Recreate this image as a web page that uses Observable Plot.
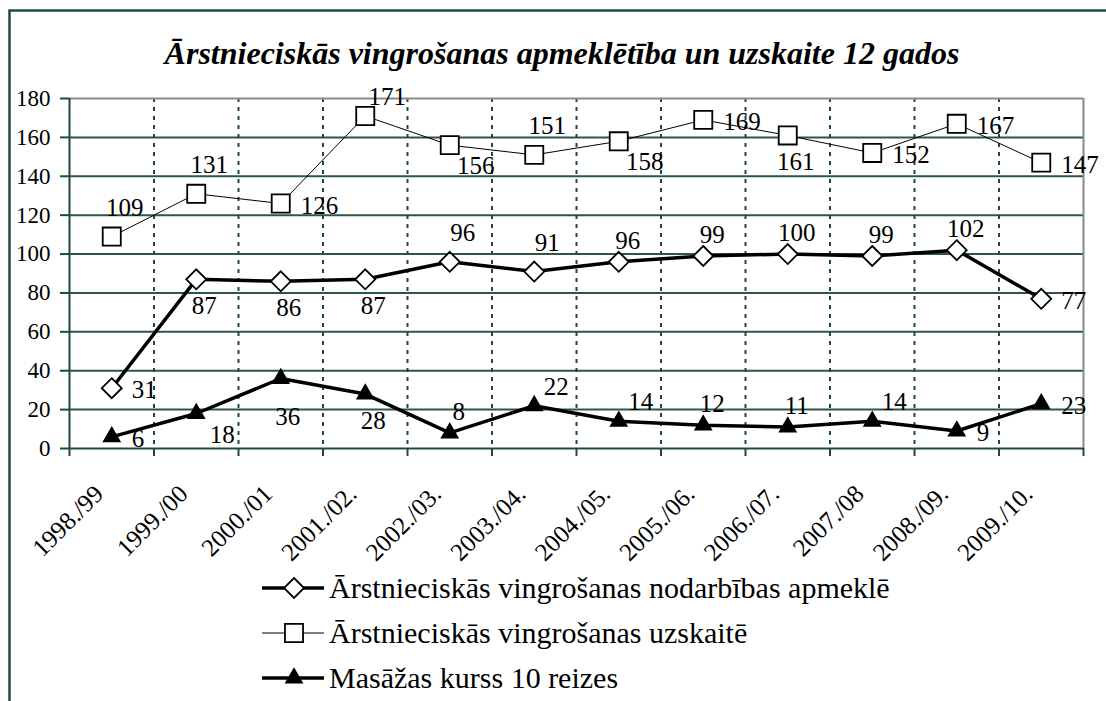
<!DOCTYPE html>
<html>
<head>
<meta charset="utf-8">
<script src="https://cdn.jsdelivr.net/npm/d3@7"></script>
<script src="https://cdn.jsdelivr.net/npm/@observablehq/plot@0.6"></script>
<style>
  body { margin: 0; background: #fff; }
  #wrap { position: relative; width: 1106px; height: 701px; overflow: hidden; background: #fff; }
  #wrap svg { position: absolute; left: 0; top: 0; }
</style>
</head>
<body>
<div id="wrap"></div>
<script>
// ---- data ----
const categories = ["1998./99", "1999./00", "2000./01", "2001./02.", "2002./03.", "2003./04.",
                    "2004./05.", "2005./06.", "2006./07.", "2007./08", "2008./09.", "2009./10."];
const apmekle  = [31, 87, 86, 87, 96, 91, 96, 99, 100, 99, 102, 77];
const uzskaite = [109, 131, 126, 171, 156, 151, 158, 169, 161, 152, 167, 147];
const masazas  = [6, 18, 36, 28, 8, 22, 14, 12, 11, 14, 9, 23];
const yTicks = [0, 20, 40, 60, 80, 100, 120, 140, 160, 180];
const seriesNames = [
  "Ārstnieciskās vingrošanas nodarbības apmeklē",
  "Ārstnieciskās vingrošanas uzskaitē",
  "Masāžas kurss 10 reizes"
];
const titleText = "Ārstnieciskās vingrošanas apmeklētība un uzskaite 12 gados";
// label placement codes (where each data label sits relative to its marker)
const apmeklePlace  = ["r", "b", "b", "b", "A", "A", "a", "a", "a", "a", "a", "r"];
const uzskaitePlace = ["A", "A", "r", "ar", "br", "A", "br", "r", "b", "r", "r", "r"];
const masazasPlace  = ["r", "br", "B", "b", "a", "ar", "ar", "a", "a", "ar", "r", "r"];

// ---- styles ----
const serif = "Liberation Serif";
const gridGreen = "#2c5747";
const axisGreen = "#1f4a3a";
const placeStyle = {
  r:  {dx: 20, dy: 2, textAnchor: "start"},
  a:  {dx: 9,  dy: -21},
  A:  {dx: 13, dy: -29},
  b:  {dx: 8,  dy: 27},
  B:  {dx: 7,  dy: 38},
  ar: {dx: 22, dy: -19},
  br: {dx: 26, dy: 21}
};
const series = [
  {name: seriesNames[0], values: apmekle,  place: apmeklePlace,  symbol: "diamond2",  r: 9,    fill: "white", lineWidth: 3.5},
  {name: seriesNames[1], values: uzskaite, place: uzskaitePlace, symbol: "square2",   r: 11.5, fill: "white", lineWidth: 1},
  {name: seriesNames[2], values: masazas,  place: masazasPlace,  symbol: "triangle2", r: 7.5,  fill: "black", lineWidth: 3.5}
];

const W = 1106, H = 701;
const mLeft = 69, mRight = 1083, mTop = 98, mBottom = 448;

const rows = series.flatMap((s, k) => s.values.map((v, i) => ({k, i, v, place: s.place[i]})));

const marks = [
  Plot.ruleY(yTicks.filter(v => v > 0 && v < 180), {stroke: gridGreen, strokeWidth: 2}),
  Plot.ruleX(d3.range(categories.length - 1).map(i => i + 0.5), {stroke: axisGreen, strokeWidth: 2, strokeDasharray: "4,5"}),
  Plot.ruleY([180], {stroke: "#8a8a8a", strokeWidth: 2}),
  Plot.ruleX([categories.length - 0.5], {stroke: "#8a8a8a", strokeWidth: 2}),
  Plot.ruleX([-0.5], {stroke: axisGreen, strokeWidth: 2}),
  Plot.ruleY([0], {stroke: axisGreen, strokeWidth: 2}),
  Plot.axisY(yTicks, {tickSize: 9, tickPadding: 10, fontSize: 23, fontFamily: serif, stroke: axisGreen, strokeWidth: 2, fill: "black", label: null}),
  Plot.axisX(d3.range(categories.length + 1).map(i => i - 0.5), {tickSize: 8, tickFormat: () => "", stroke: axisGreen, strokeWidth: 2, label: null}),
  Plot.text(categories, {x: (d, i) => i, frameAnchor: "bottom", text: d => d, rotate: -45, textAnchor: "end", lineAnchor: "bottom", dx: -7, dy: 47, fontSize: 25, fontFamily: serif, fill: "black"})
];
for (const s of series) {
  marks.push(Plot.line(s.values, {x: (d, i) => i, y: d => d, stroke: "black", strokeWidth: s.lineWidth}));
}
for (const s of series) {
  marks.push(Plot.dot(s.values, {x: (d, i) => i, y: d => d, symbol: s.symbol, r: s.r, stroke: "black", strokeWidth: 1.8, fill: s.fill}));
}
for (const [code, st] of Object.entries(placeStyle)) {
  marks.push(Plot.text(rows.filter(d => d.place === code), {
    x: "i", y: "v", text: d => String(d.v), fontSize: 25, fontFamily: serif, fill: "black",
    lineAnchor: "middle", textAnchor: st.textAnchor || "middle", dx: st.dx, dy: st.dy
  }));
}

const chart = Plot.plot({
  width: W, height: H,
  marginLeft: mLeft, marginRight: W - mRight, marginTop: mTop, marginBottom: H - mBottom,
  x: {type: "linear", domain: [-0.5, categories.length - 0.5], axis: null},
  y: {domain: [0, 180], axis: null},
  style: {fontFamily: serif, background: "transparent", overflow: "visible", color: "black"},
  marks
});
document.getElementById("wrap").appendChild(chart);

// ---- overlay: outer frame, title, legend ----
const ov = d3.select("#wrap").append("svg").attr("width", W).attr("height", H)
  .style("pointer-events", "none");
ov.append("rect").attr("x", 9.5).attr("y", 10.5).attr("width", W + 20).attr("height", H + 20)
  .attr("fill", "none").attr("stroke", "#1f4b3b").attr("stroke-width", 2.5);
ov.append("text").attr("x", 562).attr("y", 64).attr("text-anchor", "middle")
  .attr("font-family", serif)
  .attr("font-size", 32).attr("font-weight", "bold").attr("font-style", "italic")
  .text(titleText);

const legendBase = [598, 643, 688];
const symbolTypes = {diamond2: d3.symbolDiamond2, square2: d3.symbolSquare2, triangle2: d3.symbolTriangle2};
series.forEach((s, k) => {
  const g = ov.append("g");
  const ly = legendBase[k] - 10;
  g.append("line").attr("x1", 262).attr("x2", 324).attr("y1", ly).attr("y2", ly)
    .attr("stroke", "black").attr("stroke-width", s.lineWidth);
  g.append("path").attr("transform", `translate(294,${ly})`)
    .attr("d", d3.symbol(symbolTypes[s.symbol], Math.PI * s.r * s.r)())
    .attr("fill", s.fill).attr("stroke", "black").attr("stroke-width", 1.8);
  g.append("text").attr("x", 329).attr("y", legendBase[k]).attr("font-size", 30)
    .attr("font-family", serif).text(s.name);
});
</script>
</body>
</html>
